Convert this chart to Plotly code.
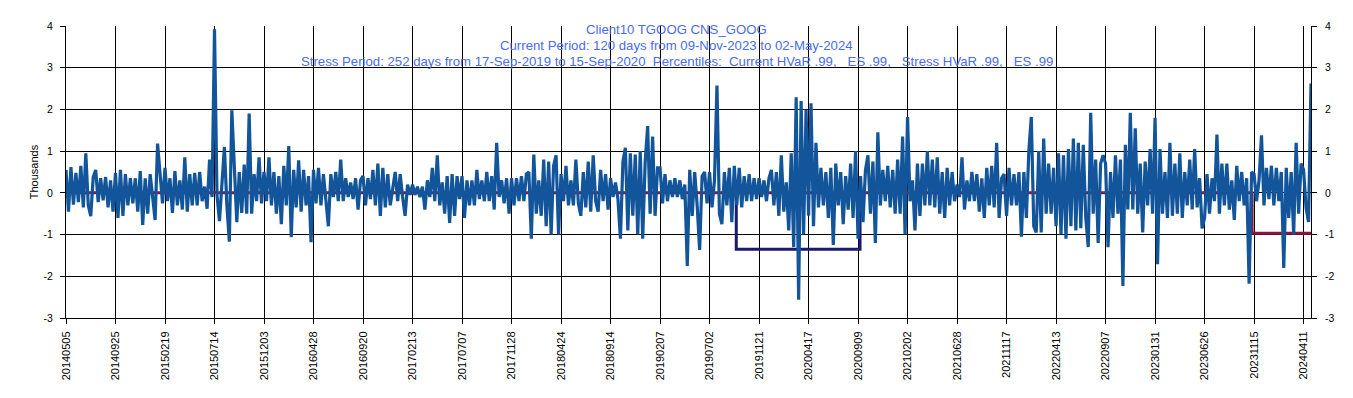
import plotly.graph_objects as go

# ---------------- data ----------------
tick_labels = ["20140505", "20140925", "20150219", "20150714", "20151203", "20160428",
               "20160920", "20170213", "20170707", "20171128", "20180424", "20180914",
               "20190207", "20190702", "20191121", "20200417", "20200909", "20210202",
               "20210628", "20211117", "20220413", "20220907", "20230131", "20230626",
               "20231115", "20240411"]
days_per_tick = 100          # trading days between labelled dates
sample_step = 5              # trading days between the sampled P&L values below

# daily P&L (thousands), sampled every 5 trading days, one list per 100-day block
p00 = [0.55, -0.45, 0.62, -0.28, 0.48, -0.22, 0.65, -0.35, 0.95, -0.3, -0.56, 0.38, 0.55, -0.22, 0.35, -0.18, 0.38, -0.35, 0.3, -0.45]
p01 = [0.48, -0.6, 0.55, -0.55, 0.45, -0.3, 0.35, -0.25, 0.35, -0.45, 0.52, -0.77, 0.35, -0.5, 0.45, -0.2, -0.65, 1.18, 0.5, -0.25]
p02 = [0.6, -0.2, 0.35, -0.48, 0.52, -0.3, 0.3, -0.4, 0.85, -0.45, 0.45, -0.3, 0.48, -0.3, 0.5, -0.2, 0.15, -0.38, 0.8, -0.1]
p03 = [3.92, -0.05, -0.68, 0.2, 1.1, -0.3, -1.17, 1.98, 0.7, -0.7, 0.5, -0.48, 0.68, -0.5, 1.9, -0.5, 0.45, -0.2, 0.85, -0.25]
p04 = [0.5, -0.2, 0.85, -0.3, 0.5, -0.5, 0.4, -0.75, 0.65, -0.3, 1.12, -1.06, 0.55, -0.35, 0.78, -0.45, 0.55, -0.3, 0.4, -1.18]
p05 = [0.55, -0.25, 0.6, -0.3, 0.45, -0.2, -0.8, 0.45, -0.1, 0.5, -0.2, 0.8, -0.2, 0.35, -0.1, 0.25, -0.15, 0.35, -0.4, 0.3]
p06 = [0.4, -0.3, 0.35, -0.15, 0.55, -0.3, 0.7, -0.55, 0.6, -0.35, 0.45, -0.3, 0.15, 0.5, -0.2, 0.45, -0.1, -0.55, 0.2, -0.05]
p07 = [0.2, -0.05, 0.15, -0.1, 0.15, -0.4, 0.3, -0.1, 0.6, -0.2, 0.9, -0.3, 0.25, -0.5, 0.4, -0.72, 0.45, -0.55, 0.4, -0.15]
p08 = [0.4, -0.6, 0.3, -0.3, 0.3, -0.3, 0.55, -0.15, 0.3, -0.2, 0.5, -0.2, 0.4, -0.4, 1.2, -0.1, 0.3, -0.25, 0.35, -0.5]
p09 = [0.35, -0.3, 0.35, -0.2, 0.4, -0.2, 0.45, 0.5, -1.1, 0.92, -0.5, 0.3, -0.55, 0.8, -0.8, 0.75, -1.0, 0.65, 0.9, -1.0]
p10 = [0.45, -0.2, 0.65, -0.3, 0.3, -0.3, 0.8, -0.25, -0.55, 0.5, -0.35, 0.75, -0.45, 0.9, -0.2, -0.45, 0.55, -0.2, 0.45, -0.4]
p11 = [0.35, -0.1, 0.25, -0.15, -1.1, 0.75, 1.08, -0.9, 0.95, -0.55, 0.92, -1.0, 1.0, -1.1, 0.75, 1.6, -0.5, 1.35, -0.55, 0.6]
p12 = [0.6, -0.25, 0.45, -0.2, 0.3, -0.1, 0.35, -0.1, 0.3, -0.15, 0.2, -1.75, 0.55, -0.55, 0.5, -0.3, -1.37, 0.4, 0.5, -0.25]
p13 = [0.5, -0.35, 0.3, 2.57, -0.5, -0.75, 0.5, -0.3, 0.6, -0.7, 0.65, -0.3, 0.6, -0.35, 0.4, -0.2, 0.45, -0.2, 0.35, -0.15]
p14 = [0.35, -0.1, 0.3, -0.2, 0.35, 0.55, -0.3, 0.5, -0.55, 0.9, -0.45, 0.25, -0.9, 0.95, -1.3, 2.29, -2.56, 2.2, -1.0, 2.0]
p15 = [-0.55, 2.15, -0.8, 1.2, -0.35, 0.6, -0.3, 0.5, -0.6, 0.6, -1.25, 0.7, -0.3, 0.5, -0.75, 0.4, -0.4, 0.7, -0.6, 1.0]
p16 = [-1.1, 0.4, -0.7, 0.55, 0.9, -0.5, 0.75, -1.2, 1.45, -0.3, 0.55, -0.2, 0.65, -0.35, 0.55, -0.5, 0.8, -0.5, 1.35, -1.0]
p17 = [1.82, -0.2, 0.3, -0.9, 0.7, -0.55, 0.7, -0.3, 1.0, -0.3, 0.8, -0.35, 0.85, -0.5, 0.5, -0.6, 0.6, -0.3, 0.5, -0.2]
p18 = [0.2, -0.1, 0.85, -0.4, 0.3, -0.2, 0.5, -0.2, 0.45, -0.45, 0.35, -0.6, 0.6, -0.3, 0.65, -0.35, 1.2, -0.6, 0.35, 0.45]
p19 = [-0.55, 0.6, -0.3, 0.45, -0.3, 0.5, -1.05, 0.5, -0.6, 1.0, 1.82, -0.8, -0.95, 1.0, -0.95, 1.3, -0.5, 0.7, -0.5, 0.6]
p20 = [-0.8, 0.95, -1.0, 0.9, -1.1, 1.05, -0.8, 1.3, -0.9, 1.2, -0.85, 1.15, -0.6, -1.3, 1.92, -0.5, 0.8, -1.2, 0.7, 0.9]
p21 = [0.7, -1.3, 0.5, -0.6, 0.9, -0.5, 0.8, -2.23, 1.15, -0.4, 1.92, -0.4, 1.55, -0.5, 0.7, -0.95, 0.75, -0.3, 1.05, -0.5]
p22 = [1.8, -1.71, 1.05, -0.5, 0.5, -0.6, 1.2, -0.55, 0.7, -0.5, 0.95, -0.6, 0.5, -0.3, 0.8, -0.4, 1.05, -0.35, 0.35, -0.85]
p23 = [-0.6, 0.45, -0.5, 0.35, -0.2, 1.4, -0.5, 0.7, -0.3, 0.7, -0.4, 0.3, -0.65, 0.65, -0.2, 0.5, -0.3, 0.35, -2.18, 0.5]
p24 = [0.45, -0.2, 0.3, 1.38, -0.3, 0.6, -0.15, 0.65, -0.3, 0.6, -0.2, 0.5, -1.8, 0.6, -0.6, 0.5, -1.0, 1.2, -0.5, 0.7]
p25 = [0.55, -0.35, -0.7, 2.62]

# VaR periods (trading-day index) and levels (thousands)
stress_start_day = 1354      # 17-Sep-2019
stress_end_day = 1604        # 15-Sep-2020
stress_hvar = -1.35
current_start_day = 2396     # 09-Nov-2023
current_hvar = -0.97

y_ticks = [-3, -2, -1, 0, 1, 2, 3, 4]
y_tick_text = ["-3", "-2", "-1", "0", "1", "2", "3", "4"]

title_lines = ["Client10 TGOOG CNS_GOOG",
               "Current Period: 120 days from 09-Nov-2023 to 02-May-2024",
               "Stress Period: 252 days from 17-Sep-2019 to 15-Sep-2020  Percentiles:  Current HVaR .99,   ES .99,   Stress HVaR .99,   ES .99"]

# ---------------- build ----------------
pnl = (p00 + p01 + p02 + p03 + p04 + p05 + p06 + p07 + p08 + p09 + p10 + p11 + p12
       + p13 + p14 + p15 + p16 + p17 + p18 + p19 + p20 + p21 + p22 + p23 + p24 + p25)
days = [i * sample_step for i in range(len(pnl))]
last_day = days[-1]
tick_days = [i * days_per_tick for i in range(len(tick_labels))]

FONT = "Liberation Sans, Arial, sans-serif"
BLUE = "#12559a"
NAVY = "#1c1a6e"
CRIMSON = "#8e1540"
TITLE_BLUE = "#4a6cf0"

# page body has an 8px margin; figure sized so it ends at the window edge
W, H = 1345, 390
ML, MR, MT, MB = 58, 42, 16, 80
plot_h = H - MT - MB
plot_w = W - ML - MR

fig = go.Figure()

fig.add_trace(go.Scatter(
    x=[stress_start_day, stress_start_day, stress_end_day, stress_end_day],
    y=[0, stress_hvar, stress_hvar, 0],
    mode="lines", line=dict(color=NAVY, width=3), hoverinfo="skip", showlegend=False))

fig.add_trace(go.Scatter(
    x=[0, current_start_day, current_start_day, last_day],
    y=[0, 0, current_hvar, current_hvar],
    mode="lines", line=dict(color=CRIMSON, width=3), hoverinfo="skip", showlegend=False))

fig.add_trace(go.Scatter(
    x=days, y=pnl, mode="lines", line=dict(color=BLUE, width=3.2),
    showlegend=False, yaxis="y2"))

# three centred title lines inside the plot area
title_center_x = (W / 2 - 4 - ML) / plot_w
for i, line in enumerate(title_lines):
    line_y_px = 4 + 15.8 * i          # offset of the line centre below the plot top
    fig.add_annotation(
        text=line, xref="paper", yref="paper",
        x=title_center_x, y=1 - line_y_px / plot_h,
        xanchor="center", yanchor="middle", showarrow=False,
        font=dict(family=FONT, size=13.2, color=TITLE_BLUE))

axis_common = dict(
    showline=True, linecolor="black", linewidth=1,
    ticks="outside", ticklen=5, tickcolor="black", tickwidth=1,
    zeroline=False,
)

fig.update_layout(
    width=W, height=H,
    margin=dict(l=ML, r=MR, t=MT, b=MB),
    paper_bgcolor="white", plot_bgcolor="white",
    showlegend=False,
    font=dict(family=FONT, color="black"),
    xaxis=dict(
        range=[0, last_day], tickmode="array", tickvals=tick_days, ticktext=tick_labels,
        tickangle=-90, showgrid=True, gridcolor="black", gridwidth=1,
        ticklabelstandoff=3, tickfont=dict(family=FONT, size=11, color="black"),
        **axis_common),
    yaxis=dict(
        range=[-3, 4], tickmode="array", tickvals=y_ticks, ticktext=y_tick_text,
        showgrid=True, gridcolor="black", gridwidth=1,
        ticklabelstandoff=5, tickfont=dict(family=FONT, size=10.5, color="black"),
        title=dict(text="Thousands", font=dict(family=FONT, size=11, color="black"), standoff=2),
        **axis_common),
    yaxis2=dict(
        range=[-3, 4], tickmode="array", tickvals=y_ticks, ticktext=y_tick_text,
        overlaying="y", side="right", showgrid=False,
        ticklabelstandoff=6, tickfont=dict(family=FONT, size=10.5, color="black"),
        **axis_common),
)

fig.write_html("out.html")
